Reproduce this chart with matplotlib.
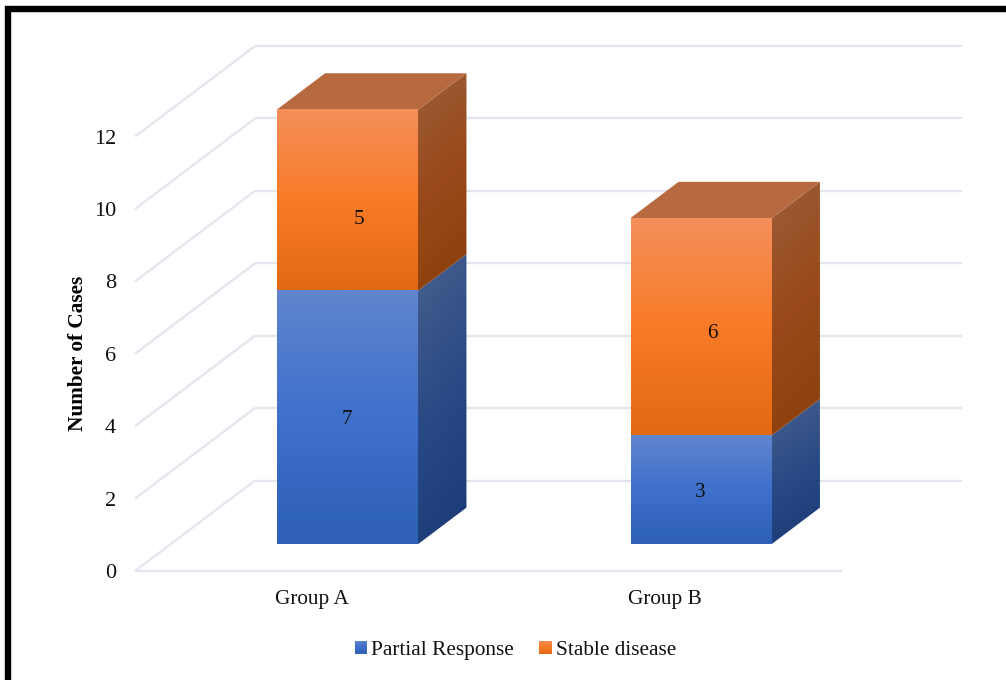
import numpy as np
import matplotlib
matplotlib.use("Agg")
import matplotlib.pyplot as plt
from matplotlib.colors import LinearSegmentedColormap
from matplotlib.patches import Patch, Polygon, Rectangle

plt.rcParams["font.family"] = ["Liberation Serif", "DejaVu Serif"]

# Data
groups = ["Group A", "Group B"]
partial_response = [7, 3]
stable_disease = [5, 6]
series_names = ["Partial Response", "Stable disease"]
y_ticks = [0, 2, 4, 6, 8, 10, 12]
y_title = "Number of Cases"

# Canvas geometry, in pixels
W, H = 1006, 680
X0, Y0 = 135.0, 571.0      # front-left corner of the floor
PX_PER_CAT = 353.5
PX_PER_UNIT = 36.2
DEPTH_X, DEPTH_Y = 120.0, 90.5   # full depth of the chart box

# Oblique depth expressed in data units
dx = DEPTH_X / PX_PER_CAT
dy = DEPTH_Y / PX_PER_UNIT

BAR_WIDTH = 0.40
BAR_D0, BAR_D1 = 0.30, 0.70   # bar extent along the depth axis

GRID = "#E3E6EE"
BLUE_FRONT = ["#6085CE", "#3F70CC", "#2D60B6"]
BLUE_SIDE = ["#425C8C", "#2A4A85", "#1D3D78"]
ORANGE_FRONT = ["#F48F5B", "#F97B27", "#E26913"]
ORANGE_SIDE = ["#9C5A34", "#99491A", "#8D410C"]
ORANGE_TOP = "#B76A40"

fig = plt.figure(figsize=(W / 100, H / 100), dpi=100, facecolor="white")
ax = fig.add_axes([0, 0, 1, 1])
xlim = (-X0 / PX_PER_CAT, (W - X0) / PX_PER_CAT)
ylim = ((Y0 - H) / PX_PER_UNIT, Y0 / PX_PER_UNIT)


def project(x, v, d):
    """Map category position, value and depth fraction to plotting coordinates."""
    return x + d * dx, v + d * dy


def gradient_poly(points, colors, tilt=0.0, z=3):
    """Fill a polygon with a top-to-bottom gradient, optionally skewed sideways."""
    pts = np.array(points)
    cmap = LinearSegmentedColormap.from_list("face", colors)
    u, w = np.meshgrid(np.linspace(0, 1, 60), np.linspace(0, 1, 120))
    t = (w + tilt * (u - 0.5)).clip(0, 1)
    extent = (pts[:, 0].min(), pts[:, 0].max(), pts[:, 1].min(), pts[:, 1].max())
    im = ax.imshow(t, cmap=cmap, vmin=0, vmax=1, extent=extent, origin="upper",
                   aspect="auto", zorder=z, interpolation="bilinear")
    im.set_clip_path(Polygon(pts, closed=True, transform=ax.transData))


def draw_segment(center, low, high, front, side, top=None):
    """Draw one stacked segment as an oblique box."""
    x0 = center - BAR_WIDTH / 2
    x1 = center + BAR_WIDTH / 2
    # The side face starts slightly behind the front face so no seam shows.
    seam = 0.006
    gradient_poly([project(x1 - seam, low, BAR_D0), project(x1, low, BAR_D0),
                   project(x1, low, BAR_D1), project(x1, high, BAR_D1),
                   project(x1, high, BAR_D0), project(x1 - seam, high, BAR_D0)], side,
                  tilt=0.22, z=3)
    gradient_poly([project(x0, low, BAR_D0), project(x1, low, BAR_D0),
                   project(x1, high, BAR_D0), project(x0, high, BAR_D0)], front, z=4)
    if top is not None:
        ax.add_patch(Polygon([project(x0, high, BAR_D0), project(x1, high, BAR_D0),
                              project(x1, high, BAR_D1), project(x0, high, BAR_D1)],
                             closed=True, facecolor=top, edgecolor="none", zorder=3))


# Floor, side wall and back wall gridlines
grid_kw = dict(color=GRID, lw=1.7, solid_capstyle="butt", zorder=1)
n_cat = len(groups)
for v in y_ticks:
    bx, by = project(0, v, 1)
    ax.plot([0, bx], [v, by], **grid_kw)
    ex, _ = project(n_cat, v, 1)
    ax.plot([bx, ex], [by, by], **grid_kw)
ax.plot([0, n_cat], [0, 0], **grid_kw)

# Stacked bars and their value labels
label_offsets = {(0, 0): (-1, -2.5), (0, 1): (11.5, -20), (1, 0): (-1, -3), (1, 1): (11.5, -7)}
centers = np.arange(n_cat) + 0.5
for i, c in enumerate(centers):
    a, b = partial_response[i], stable_disease[i]
    draw_segment(c, 0, a, BLUE_FRONT, BLUE_SIDE)
    draw_segment(c, a, a + b, ORANGE_FRONT, ORANGE_SIDE, ORANGE_TOP)
    for j, (low, val) in enumerate([(0, a), (a, b)]):
        off = label_offsets[(i, j)]
        lx, ly = project(c, low + val / 2, BAR_D0)
        ax.annotate(str(val), (lx, ly), xytext=(off[0] * 0.72, off[1] * 0.72),
                    textcoords="offset points", ha="center", va="center",
                    fontsize=15.3, color="#111111", zorder=6)

# Axes: hidden lines, real tick labels
for name, spine in ax.spines.items():
    spine.set_visible(False)
ax.spines["left"].set_position(("data", 0))
ax.spines["bottom"].set_position(("data", 0))
ax.set_yticks(y_ticks)
ax.set_yticklabels([str(v) for v in y_ticks], fontsize=16, color="#111111")
ax.set_xticks(centers)
ax.set_xticklabels(groups, fontsize=15.3, color="#111111")
ax.tick_params(axis="y", length=0, pad=13.5)
ax.tick_params(axis="x", length=0, pad=13.5)
ax.set_xlim(xlim)
ax.set_ylim(ylim)
ax.patch.set_visible(False)

fig.text(78 / W, 1 - 353 / H, y_title, rotation=90, ha="center", va="center",
         fontsize=15.3, fontweight="bold", color="black")

# Legend
handles = [Patch(facecolor=BLUE_FRONT[1], edgecolor="none", label=series_names[0]),
           Patch(facecolor=ORANGE_FRONT[1], edgecolor="none", label=series_names[1])]
leg = ax.legend(handles=handles, loc="center", bbox_to_anchor=(515.5 / W, 1 - 650.5 / H),
                bbox_transform=fig.transFigure, ncol=2, frameon=False, fontsize=15.3,
                handlelength=0.57, handleheight=0.57, handletextpad=0.19,
                columnspacing=1.2, borderpad=0, borderaxespad=0, labelcolor="#111111")

# Legend swatches carry the same gradient as the bar fronts
fig.canvas.draw()
inv = ax.transData.inverted()
for patch, colors in zip(leg.get_patches(), [BLUE_FRONT, ORANGE_FRONT]):
    ext = patch.get_window_extent()
    (sx0, sy0), (sx1, sy1) = inv.transform([(ext.x0, ext.y0), (ext.x1, ext.y1)])
    gradient_poly([(sx0, sy0), (sx1, sy0), (sx1, sy1), (sx0, sy1)], colors, z=8)
ax.set_xlim(xlim)
ax.set_ylim(ylim)

# Outer frame, running off the right and bottom of the canvas
fig.add_artist(Rectangle((8 / W, -0.05), 1.1, 1.05 - 9 / H, transform=fig.transFigure,
                         fill=False, edgecolor="black", linewidth=4.6, zorder=10))

fig.savefig("out.png", dpi=100, facecolor="white")
